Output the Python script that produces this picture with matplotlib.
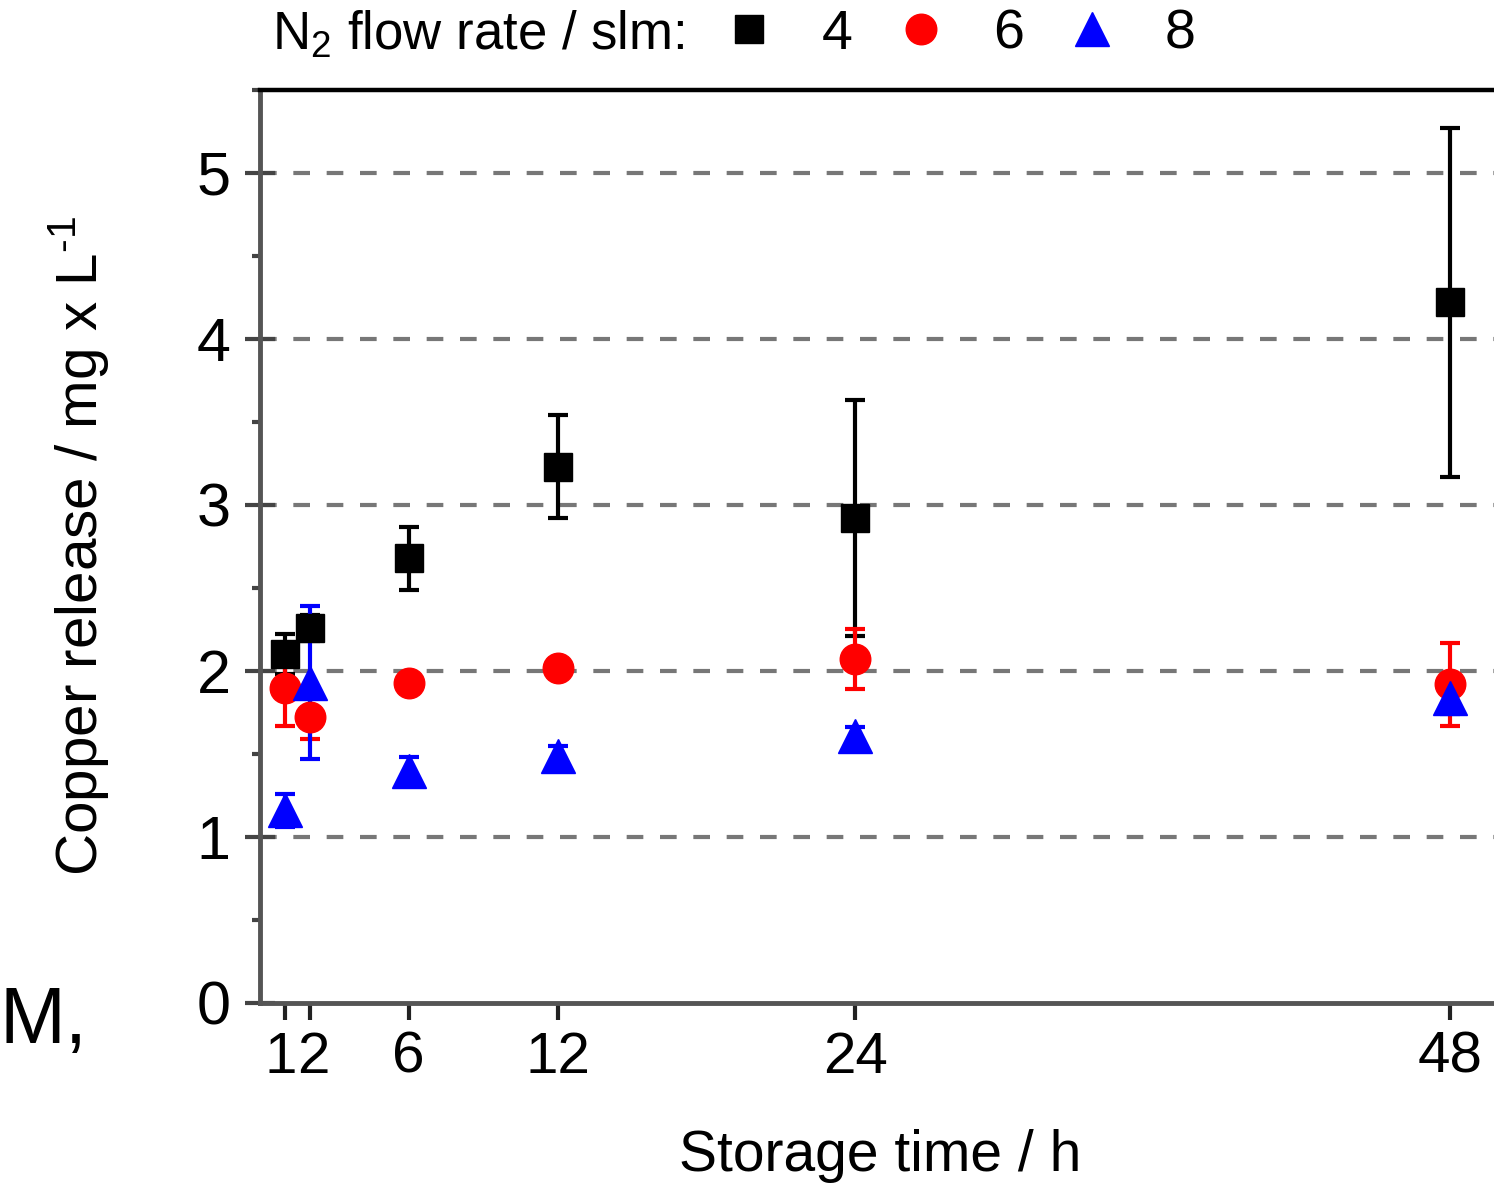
import matplotlib
matplotlib.use("Agg")
import matplotlib.pyplot as plt
from matplotlib.ticker import MultipleLocator, FixedLocator
from matplotlib.transforms import ScaledTranslation

plt.rcParams["font.family"] = ["Liberation Sans", "DejaVu Sans"]
plt.rcParams["mathtext.fontset"] = "custom"
plt.rcParams["mathtext.rm"] = "Liberation Sans"
plt.rcParams["mathtext.it"] = "Liberation Sans:italic"

# storage time (h) and copper release (mg/L) per N2 flow rate
hours = [1, 2, 6, 12, 24, 48]
flows = ["4", "6", "8"]
cu_4 = [2.10, 2.26, 2.68, 3.23, 2.92, 4.22]
err_4 = [0.12, 0.08, 0.19, 0.31, 0.71, 1.05]
cu_6 = [1.90, 1.72, 1.93, 2.02, 2.07, 1.92]
err_6 = [0.23, 0.13, 0.05, 0.05, 0.18, 0.25]
cu_8 = [1.16, 1.93, 1.40, 1.49, 1.61, 1.84]
err_8 = [0.10, 0.46, 0.08, 0.06, 0.05, 0.10]

STYLES = [("k", "s", 20), ("#ff0000", "o", 22), ("#0000ff", "^", 25)]

fig = plt.figure(figsize=(14.94, 11.95), dpi=100)
ax = fig.add_axes([0.174, 0.1607, 0.830, 0.764])

handles = []
for (col, mk, ms), y, e in zip(STYLES, [cu_4, cu_6, cu_8], [err_4, err_6, err_8]):
    h = ax.errorbar(hours, y, yerr=e, fmt=mk, color=col, ms=ms, mec=col,
                    elinewidth=3, capsize=7, capthick=3, zorder=3)
    handles.append(h[0])

ax.set_xlim(0, 50)
ax.set_ylim(0, 5.5)
ax.xaxis.set_major_locator(FixedLocator(hours))
ax.set_xticklabels([str(h) for h in hours])
ax.yaxis.set_major_locator(MultipleLocator(1))
ax.yaxis.set_minor_locator(MultipleLocator(0.5))

for v in range(1, 6):
    ax.axhline(v, color="#777777", lw=3, ls=(0, (4, 4)), zorder=1)

for side in ["left", "bottom"]:
    ax.spines[side].set_color("#555555")
    ax.spines[side].set_linewidth(3.5)
ax.spines["top"].set_color("k")
ax.spines["top"].set_linewidth(3.2)
ax.spines["right"].set_visible(False)

ax.tick_params(axis="y", which="major", direction="inout", length=22, width=3,
               color="#444444", labelsize=44, pad=10)
ax.tick_params(axis="y", which="minor", direction="out", length=6, width=3,
               color="#444444")
ax.tick_params(axis="x", which="major", direction="out", length=12, width=3,
               color="#222222", labelsize=42, pad=8)

# 1 h and 2 h sit close together: push their labels together so they read side by side
lab1, lab2 = ax.get_xticklabels()[:2]
lab1.set_ha("right")
lab1.set_transform(lab1.get_transform() + ScaledTranslation(0.125, 0, fig.dpi_scale_trans))
lab2.set_ha("left")
lab2.set_transform(lab2.get_transform() + ScaledTranslation(-0.125, 0, fig.dpi_scale_trans))

ax.set_xlabel("Storage time / h", fontsize=41, labelpad=32)
ax.set_ylabel("Copper release / mg x L$^{\\text{-1}}$", fontsize=42, labelpad=62)

fig.text(0.182, 0.971, "N$_2$ flow rate / slm:", fontsize=38, va="center")
ax.legend(handles, flows, ncol=3, loc="center left", bbox_to_anchor=(0.483, 0.971),
          bbox_transform=fig.transFigure, frameon=False, fontsize=40,
          handlelength=1.0, handletextpad=0.8, columnspacing=0.73,
          markerscale=1.0, borderpad=0, borderaxespad=0)

fig.text(0.0, 0.127, "M,", fontsize=57, va="baseline")

fig.savefig("out.png", dpi=100)
